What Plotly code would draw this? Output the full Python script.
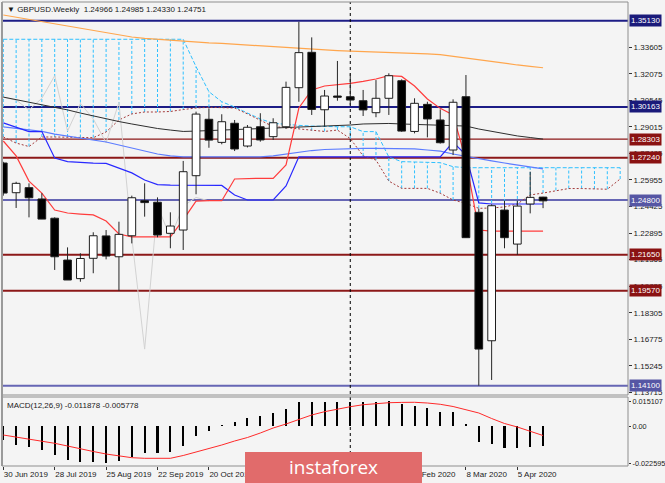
import plotly.graph_objects as go

# ---------------- data (weekly bars, index 0 = week of 30 Jun 2019) ----------------
open_ = [1.2693, 1.2522, 1.2551, 1.2486, 1.2375, 1.2134, 1.2027, 1.2144, 1.2273, 1.2153,
         1.2274, 1.2476, 1.2467, 1.2288, 1.2307, 1.2620, 1.2945, 1.2812, 1.2922, 1.2791,
         1.2902, 1.2845, 1.2902, 1.3127, 1.3331, 1.3000, 1.3079, 1.3075, 1.3052, 1.2983,
         1.3066, 1.3167, 1.2875, 1.3031, 1.2941, 1.2768, 1.3075, 1.2409, 1.1669, 1.2422,
         1.2226, 1.2457, 1.24966]
high = [1.2700, 1.2585, 1.2576, 1.2519, 1.2380, 1.2207, 1.2173, 1.2294, 1.2307, 1.2355,
        1.2505, 1.2576, 1.2495, 1.2409, 1.2705, 1.2989, 1.3008, 1.2974, 1.2941, 1.2912,
        1.2980, 1.2951, 1.3162, 1.3507, 1.3417, 1.3114, 1.3281, 1.3210, 1.3114, 1.3171,
        1.3210, 1.3175, 1.3066, 1.3046, 1.3002, 1.3060, 1.3200, 1.2430, 1.2455, 1.2476,
        1.2476, 1.2643, 1.24985]
low = [1.2505, 1.2434, 1.2380, 1.2370, 1.2077, 1.2019, 1.2009, 1.2058, 1.2138, 1.1956,
       1.2230, 1.2384, 1.2265, 1.2202, 1.2192, 1.2513, 1.2781, 1.2801, 1.2762, 1.2783,
       1.2816, 1.2826, 1.2889, 1.3046, 1.2970, 1.2902, 1.3052, 1.3027, 1.2964, 1.2957,
       1.2970, 1.2873, 1.2864, 1.2841, 1.2805, 1.2739, 1.2263, 1.1410, 1.1443, 1.2202,
       1.2163, 1.2403, 1.24330]
close = [1.2520, 1.2576, 1.2493, 1.2370, 1.2153, 1.2019, 1.2143, 1.2274, 1.2157, 1.2282,
         1.2493, 1.2465, 1.2278, 1.2330, 1.2643, 1.2975, 1.2825, 1.2931, 1.2774, 1.2899,
         1.2826, 1.2925, 1.3129, 1.3329, 1.3002, 1.3079, 1.3072, 1.3056, 1.2999, 1.3066,
         1.3196, 1.2877, 1.3037, 1.2947, 1.2810, 1.3043, 1.2263, 1.1621, 1.2447, 1.2263,
         1.2445, 1.2495, 1.24751]

ma_orange = [1.3546, 1.3533, 1.3520, 1.3507, 1.3494, 1.3483, 1.3470, 1.3457, 1.3444, 1.3432,
             1.3419, 1.3411, 1.3405, 1.3399, 1.3394, 1.3390, 1.3385, 1.3382, 1.3377, 1.3373,
             1.3368, 1.3364, 1.3360, 1.3356, 1.3350, 1.3344, 1.3341, 1.3338, 1.3336, 1.3333,
             1.3329, 1.3327, 1.3325, 1.3322, 1.3318, 1.3308, 1.3298, 1.3285, 1.3275, 1.3266,
             1.3258, 1.3250, 1.3242]
ma_dark = [1.3073, 1.3059, 1.3045, 1.3030, 1.3016, 1.2999, 1.2981, 1.2964, 1.2947, 1.2932,
           1.2918, 1.2903, 1.2892, 1.2883, 1.2875, 1.2877, 1.2880, 1.2883, 1.2886, 1.2889,
           1.2892, 1.2895, 1.2898, 1.2901, 1.2902, 1.2903, 1.2906, 1.2912, 1.2918, 1.2921,
           1.2921, 1.2918, 1.2916, 1.2915, 1.2914, 1.2912, 1.2906, 1.2889, 1.2875, 1.2860,
           1.2849, 1.2840, 1.2831]
ma_lightblue = [1.2901, 1.2892, 1.2883, 1.2875, 1.2860, 1.2849, 1.2837, 1.2826, 1.2814, 1.2797,
                1.2780, 1.2762, 1.2745, 1.2734, 1.2728, 1.2728, 1.2728, 1.2728, 1.2728, 1.2728,
                1.2729, 1.2734, 1.2745, 1.2756, 1.2765, 1.2771, 1.2774, 1.2777, 1.2778, 1.2778,
                1.2778, 1.2777, 1.2774, 1.2768, 1.2762, 1.2745, 1.2731, 1.2716, 1.2705, 1.2693,
                1.2682, 1.2670, 1.2659]
tenkan = [1.2820, 1.2734, 1.2589, 1.2520, 1.2422, 1.2405, 1.2399, 1.2394, 1.2359, 1.2284,
          1.2268, 1.2268, 1.2268, 1.2268, 1.2365, 1.2474, 1.2476, 1.2476, 1.2601, 1.2605,
          1.2605, 1.2605, 1.2682, 1.3010, 1.3114, 1.3137, 1.3143, 1.3152, 1.3163, 1.3177,
          1.3197, 1.3192, 1.3137, 1.3062, 1.3008, 1.2970, 1.2710, 1.2307, 1.2301, 1.2301,
          1.2301, 1.2301, 1.2301]
kijun = [1.2924, 1.2898, 1.2874, 1.2874, 1.2722, 1.2701, 1.2696, 1.2693, 1.2691, 1.2664,
         1.2636, 1.2595, 1.2569, 1.2566, 1.2566, 1.2566, 1.2566, 1.2564, 1.2509, 1.2480,
         1.2480, 1.2480, 1.2561, 1.2729, 1.2729, 1.2729, 1.2729, 1.2729, 1.2729, 1.2729,
         1.2729, 1.2729, 1.2729, 1.2729, 1.2729, 1.2814, 1.2739, 1.2463, 1.2457, 1.2457,
         1.2457, 1.2457, 1.2457]
# cloud (index 0..48, extends past the last bar)
span_a = [1.2843, 1.2808, 1.2788, 1.2843, 1.2843, 1.2843, 1.2840, 1.2839, 1.2872, 1.2941,
          1.2976, 1.2987, 1.2987, 1.2990, 1.3001, 1.3010, 1.3014, 1.3013, 1.3010, 1.2976,
          1.2941, 1.2903, 1.2897, 1.2889, 1.2880, 1.2875, 1.2883, 1.2834, 1.2734, 1.2710,
          1.2589, 1.2547, 1.2547, 1.2547, 1.2519, 1.2480, 1.2461, 1.2432, 1.2434, 1.2440,
          1.2457, 1.2509, 1.2520, 1.2535, 1.2546, 1.2546, 1.2543, 1.2542, 1.2601]
span_b = [1.3406, 1.3406, 1.3406, 1.3406, 1.3406, 1.3406, 1.3406, 1.3406, 1.3406, 1.3406,
          1.3406, 1.3406, 1.3406, 1.3406, 1.3406, 1.3248, 1.3104, 1.3046, 1.3016, 1.2981,
          1.2947, 1.2922, 1.2915, 1.2910, 1.2906, 1.2902, 1.2902, 1.2902, 1.2874, 1.2874,
          1.2728, 1.2701, 1.2699, 1.2696, 1.2695, 1.2672, 1.2666, 1.2666, 1.2666, 1.2666,
          1.2666, 1.2666, 1.2666, 1.2666, 1.2666, 1.2666, 1.2666, 1.2666, 1.2666]
chikou = [1.3072, 1.3056, 1.2999, 1.3066, 1.3196, 1.2877, 1.3037, 1.2947, 1.2810, 1.3043,
          1.2263, 1.1621, 1.2447, 1.2263, 1.2445, 1.2495, 1.2475]

macd_main = [-0.00847, -0.0115, -0.01253, -0.01453, -0.01755, -0.02058, -0.02197, -0.02197,
             -0.022595, -0.0210, -0.01895, -0.01616, -0.01616, -0.01556, -0.01192, -0.00605,
             -0.00285, 0.0006, 0.0026, 0.00466, 0.00623, 0.00769, 0.01029, 0.01435, 0.01435,
             0.01471, 0.01471, 0.01471, 0.01435, 0.01435, 0.015107, 0.01314, 0.01229, 0.01071,
             0.00866, 0.00866, 0.0009, -0.0095, -0.0109, -0.01314, -0.0135, -0.0129, -0.011878]
macd_signal = [-0.00545, -0.00666, -0.00787, -0.00908, -0.01047, -0.01211, -0.01392, -0.01544,
               -0.01695, -0.01816, -0.01918, -0.01955, -0.01955, -0.01955, -0.01786, -0.01574,
               -0.01392, -0.01150, -0.00908, -0.00696, -0.00424, -0.00121, 0.00121, 0.00393,
               0.00666, 0.00866, 0.01029, 0.01168, 0.01289, 0.01362, 0.01410, 0.01429, 0.01435,
               0.01392, 0.01314, 0.01180, 0.00999, 0.00787, 0.00454, 0.00151, -0.00061, -0.00333,
               -0.005778]

# date labels visible in the picture (the others sit under the watermark)
date_tick_idx = [0, 4, 8, 12, 16, 32, 36, 40]
date_tick_text = ["30 Jun 2019", "28 Jul 2019", "25 Aug 2019", "22 Sep 2019", "20 Oct 2019",
                  "9 Feb 2020", "8 Mar 2020", "5 Apr 2020"]
price_ticks = [1.13715, 1.15245, 1.16775, 1.18305, 1.19835, 1.21365, 1.22895, 1.24425,
               1.25955, 1.27485, 1.29015, 1.30545, 1.32075, 1.33605]
macd_ticks = [0.015107, 0.0, -0.022595]
macd_tick_text = ["0.015107", "0.00", "-0.022595"]
levels = [1.35130, 1.30163, 1.28303, 1.27240, 1.24800, 1.21650, 1.19570, 1.14100]
level_kind = ["navy", "navy", "red_thin", "red", "slate", "red", "red", "slate"]
separator_idx = 27

# ---------------- styling ----------------
BG = "#f4f4f4"
FONT = "Liberation Sans, Arial, DejaVu Sans"
line_col = {"navy": "#1c1c86", "red": "#8c1818", "red_thin": "#8c1818", "slate": "#6666b4"}
lab_col = {"navy": "#1a1a7a", "red": "#8a1212", "red_thin": "#8a1212", "slate": "#5656a4"}
line_w = {"navy": 2, "red": 2, "red_thin": 1.2, "slate": 2}

n = len(close)
idx = list(range(n))
cloud_idx = list(range(len(span_a)))

fig = go.Figure()

# cloud hatching
hx, hy = [], []
for j in cloud_idx:
    hx += [j, j, None]
    hy += [span_a[j], span_b[j], None]
fig.add_trace(go.Scatter(x=hx, y=hy, mode="lines", hoverinfo="skip",
                         line=dict(color="#2ec0ff", width=1, dash="3px,2px")))
fig.add_trace(go.Scatter(x=cloud_idx, y=span_b, mode="lines", hoverinfo="skip",
                         line=dict(color="#2ec0ff", width=1, dash="4px,2px")))
fig.add_trace(go.Scatter(x=cloud_idx, y=span_a, mode="lines", hoverinfo="skip",
                         line=dict(color="#a33a3a", width=1, dash="2px,2px")))
# chikou
fig.add_trace(go.Scatter(x=list(range(len(chikou))), y=chikou, mode="lines", hoverinfo="skip",
                         line=dict(color="#d2d2d2", width=1)))
# moving averages & ichimoku lines
fig.add_trace(go.Scatter(x=idx, y=ma_orange, mode="lines", line=dict(color="#ffa64d", width=1.2)))
fig.add_trace(go.Scatter(x=idx, y=ma_dark, mode="lines", line=dict(color="#2e2e2e", width=1)))
fig.add_trace(go.Scatter(x=idx, y=ma_lightblue, mode="lines", line=dict(color="#5c7cff", width=1.2)))
fig.add_trace(go.Scatter(x=idx, y=kijun, mode="lines", line=dict(color="#2828ff", width=1.2)))
fig.add_trace(go.Scatter(x=idx, y=tenkan, mode="lines", line=dict(color="#ff3c3c", width=1.2)))

# candles: wicks then bodies
wx, wy = [], []
for i in idx:
    wx += [i, i, None]
    wy += [low[i], high[i], None]
fig.add_trace(go.Scatter(x=wx, y=wy, mode="lines", hoverinfo="skip",
                         line=dict(color="#262626", width=1)))
hw = 0.30
for bull in (True, False):
    bx, by = [], []
    for i in idx:
        if (close[i] >= open_[i]) != bull:
            continue
        lo_, hi_ = min(open_[i], close[i]), max(open_[i], close[i])
        bx += [i - hw, i + hw, i + hw, i - hw, i - hw, None]
        by += [lo_, lo_, hi_, hi_, lo_, None]
    fig.add_trace(go.Scatter(x=bx, y=by, mode="lines", fill="toself", hoverinfo="skip",
                             fillcolor="#ffffff" if bull else "#000000",
                             line=dict(color="#1e1e1e", width=1)))

# MACD panel
fig.add_trace(go.Bar(x=idx, y=macd_main, width=0.16, marker=dict(color="#000000", line=dict(width=0)),
                     xaxis="x2", yaxis="y2"))
fig.add_trace(go.Scatter(x=idx, y=macd_signal, mode="lines", line=dict(color="#ff2a2a", width=1),
                         xaxis="x2", yaxis="y2"))

# ---------------- layout ----------------
x_range = [-0.10, 48.61]
main_dom = [0.1530, 1.0]
macd_dom = [0.0, 0.1487]

shapes = []
for lv, kind in zip(levels, level_kind):
    shapes.append(dict(type="line", xref="x domain", yref="y", x0=0, x1=1, y0=lv, y1=lv,
                       line=dict(color=line_col[kind], width=line_w[kind]), layer="below"))
shapes.append(dict(type="line", xref="x", yref="paper", x0=separator_idx, x1=separator_idx,
                   y0=0, y1=1, line=dict(color="#000000", width=1, dash="3px,3px"), layer="below"))
for dom in (main_dom, macd_dom):
    shapes.append(dict(type="rect", xref="paper", yref="paper", x0=0, x1=1, y0=dom[0], y1=dom[1],
                       line=dict(color="#8e8e8e", width=1), fillcolor="rgba(0,0,0,0)", layer="above"))
shapes.append(dict(type="line", xref="paper", yref="paper", x0=0, x1=0, y0=0, y1=1,
                   line=dict(color="#9a9a9a", width=2), layer="above"))
# watermark box
shapes.append(dict(type="rect", xref="paper", yref="paper", x0=0.3882, x1=0.6709,
                   y0=-0.040, y1=0.0302, line=dict(width=0), fillcolor="#e16b6b", layer="above"))

annotations = []
for lv, kind in zip(levels, level_kind):
    annotations.append(dict(xref="paper", yref="y", x=1, y=lv, xanchor="left", yanchor="middle",
                            xshift=1, text=f"{lv:.5f}", showarrow=False, bgcolor=lab_col[kind],
                            borderpad=1, font=dict(family=FONT, size=8, color="#ffffff")))
annotations.append(dict(xref="paper", yref="paper", x=0, y=1, xanchor="left", yanchor="top",
                        xshift=3, yshift=-1, showarrow=False,
                        text="\u25bc GBPUSD.Weekly  1.24966 1.24985 1.24330 1.24751",
                        font=dict(family=FONT, size=8, color="#1a1a1a")))
annotations.append(dict(xref="paper", yref="paper", x=0, y=macd_dom[1], xanchor="left", yanchor="top",
                        xshift=3, yshift=-2, showarrow=False,
                        text="MACD(12,26,9) -0.011878 -0.005778",
                        font=dict(family=FONT, size=8, color="#1a1a1a")))
annotations.append(dict(xref="paper", yref="paper", x=0.5288, y=-0.003, xanchor="center", yanchor="middle",
                        showarrow=False, text="instaforex",
                        font=dict(family="Open Sans", size=19, color="#ffffff")))

tickfont = dict(family=FONT, size=8, color="#1a1a1a")
fig.update_layout(
    width=665, height=483, margin=dict(l=2, r=37, t=2, b=17),
    paper_bgcolor=BG, plot_bgcolor=BG, showlegend=False, bargap=0,
    xaxis=dict(domain=[0, 1], range=x_range, anchor="y", showticklabels=False, showgrid=False,
               zeroline=False, ticks="", automargin=False),
    xaxis2=dict(domain=[0, 1], range=x_range, anchor="y2", matches="x", tickvals=date_tick_idx,
                ticktext=date_tick_text, ticks="outside", ticklen=3, tickcolor="#333333",
                tickangle=0, ticklabelposition="outside right", tickfont=tickfont,
                showgrid=False, zeroline=False, automargin=False),
    yaxis=dict(domain=main_dom, range=[1.13564, 1.36208], side="right", tickvals=price_ticks,
               tickformat=".5f", ticks="outside", ticklen=3, tickcolor="#333333", tickfont=tickfont,
               showgrid=False, zeroline=False, automargin=False),
    yaxis2=dict(domain=macd_dom, range=[-0.02421, 0.01755], side="right",
                tickvals=macd_ticks, ticktext=macd_tick_text,
                ticks="outside", ticklen=2, tickcolor="#333333",
                tickfont=dict(family=FONT, size=7.3, color="#1a1a1a"),
                showgrid=False, zeroline=False, automargin=False),
    shapes=shapes, annotations=annotations,
)

fig.write_html("out.html", config={"displayModeBar": False},
               post_script="document.body.style.margin='0';document.body.style.overflow='hidden';")
